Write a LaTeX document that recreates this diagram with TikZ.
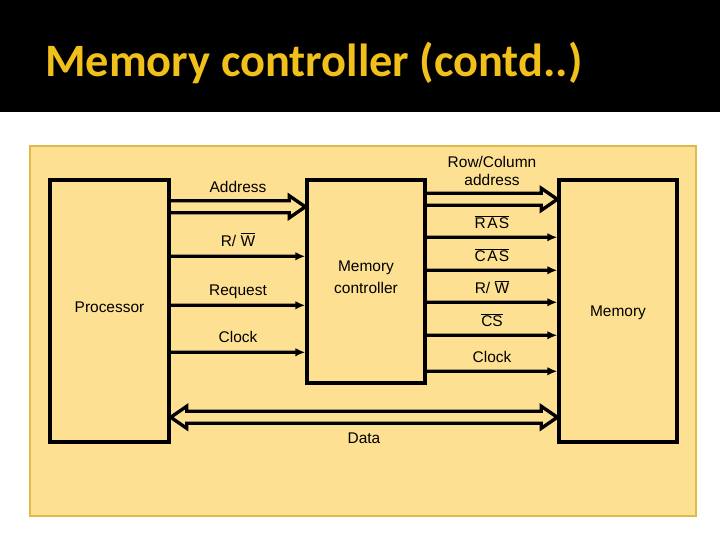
\documentclass[tikz,border=0pt]{standalone}
\usepackage{fontspec}
\setmainfont{Liberation Sans}
\newfontfamily\titlefont{Carlito}
\usetikzlibrary{positioning, arrows.meta, calc}
\definecolor{panelfill}{RGB}{253,224,145}
\definecolor{panelline}{RGB}{222,186,72}
\definecolor{titlegold}{RGB}{242,192,26}
\newcommand{\ovl}[1]{$\overline{\mbox{#1}}$}
% hollow bus arrow, pointing to #2
\newcommand{\busto}[2]{\draw[bus] ($(#1)+(0,-6)$) -- ($(#2)+(-16,-6)$) -- ($(#2)+(-16,-11)$) -- (#2) -- ($(#2)+(-16,11)$) -- ($(#2)+(-16,6)$) -- ($(#1)+(0,6)$);}
% hollow bus arrow, both ways
\newcommand{\busboth}[2]{\draw[bus] ($(#1)+(16,-6)$) -- ($(#2)+(-16,-6)$) -- ($(#2)+(-16,-11)$) -- (#2) -- ($(#2)+(-16,11)$) -- ($(#2)+(-16,6)$) -- ($(#1)+(16,6)$) -- ($(#1)+(16,11)$) -- (#1) -- ($(#1)+(16,-11)$) -- cycle;}

\begin{document}
\begin{tikzpicture}[x=0.025cm,y=-0.025cm,blk/.style={draw,line width=2.4pt,minimum width=2.95cm,minimum height=6.55cm,inner sep=0pt},inside/.style={font=\fontsize{11}{15}\selectfont,align=center,yshift=3pt},wire/.style={-{Latex[length=7pt,width=6pt]},line width=2.4pt},bus/.style={line width=2.4pt,line join=miter},lbl/.style={font=\fontsize{11}{13}\selectfont,align=center,text height=1.9ex,text depth=0.6ex},heading/.style={font=\titlefont\bfseries\fontsize{33}{38}\selectfont,text=titlegold,anchor=base west,inner sep=0pt}]
\useasboundingbox (0,0) rectangle (720,540);
\fill[black] (0,0) rectangle (720,112);
\node[heading] (title) at (45,76) {Memory controller (contd..)};
\draw[fill=panelfill,draw=panelline,line width=1.5pt] (30,146) rectangle (696,516);
\node[blk,minimum width=2.975cm,label={[inside]center:Processor}] (proc) at (109.5,311){};
\node[blk,minimum height=5.075cm,label={[inside]center:Memory\\controller}] (ctrl) at (366,281.5){};
\node[blk,label={[inside,yshift=-4pt]center:Memory}] (mem) at (618,311){};
\coordinate (addrS) at ($(proc.north east)+(0,28.5)$);
\coordinate (addrE) at ($(ctrl.north west)+(0,28.5)$);
\busto{addrS}{addrE}
\path (addrS) -- node[lbl,above=3.6pt]{Address} (addrE);
\draw[wire] ($(proc.north east)+(0,78)$) -- node[lbl,above=-0.5pt]{R/ \ovl{W}} ($(ctrl.north west)+(0,78)$);
\draw[wire] ($(proc.north east)+(0,127)$) -- node[lbl,above=-0.5pt]{Request} ($(ctrl.north west)+(0,127)$);
\draw[wire] ($(proc.north east)+(0,174)$) -- node[lbl,above=-0.5pt]{Clock} ($(ctrl.north west)+(0,174)$);
\coordinate (rcS) at ($(ctrl.north east)+(0,21)$);
\coordinate (rcE) at ($(mem.north west)+(0,21)$);
\busto{rcS}{rcE}
\path (rcS) -- node[lbl,above=3.2pt]{Row/Column\\address} (rcE);
\draw[wire] ($(ctrl.north east)+(0,59)$) -- node[lbl,above=-1.5pt]{\ovl{R\kern1pt A\kern1pt S}} ($(mem.north west)+(0,59)$);
\draw[wire] ($(ctrl.north east)+(0,92)$) -- node[lbl,above=-1.5pt]{\ovl{C\kern1pt A\kern1pt S}} ($(mem.north west)+(0,92)$);
\draw[wire] ($(ctrl.north east)+(0,124)$) -- node[lbl,above=-1.5pt]{R/ \ovl{W}} ($(mem.north west)+(0,124)$);
\draw[wire] ($(ctrl.north east)+(0,157)$) -- node[lbl,above=-1.5pt]{\ovl{CS}} ($(mem.north west)+(0,157)$);
\draw[wire] ($(ctrl.north east)+(0,193)$) -- node[lbl,above=-1.5pt]{Clock} ($(mem.north west)+(0,193)$);
\coordinate (dataS) at ($(proc.north east)+(0,239)$);
\coordinate (dataE) at ($(mem.north west)+(0,239)$);
\busboth{dataS}{dataE}
\path (dataS) -- node[lbl,below=5pt]{Data} (dataE);
\end{tikzpicture}
\end{document}
